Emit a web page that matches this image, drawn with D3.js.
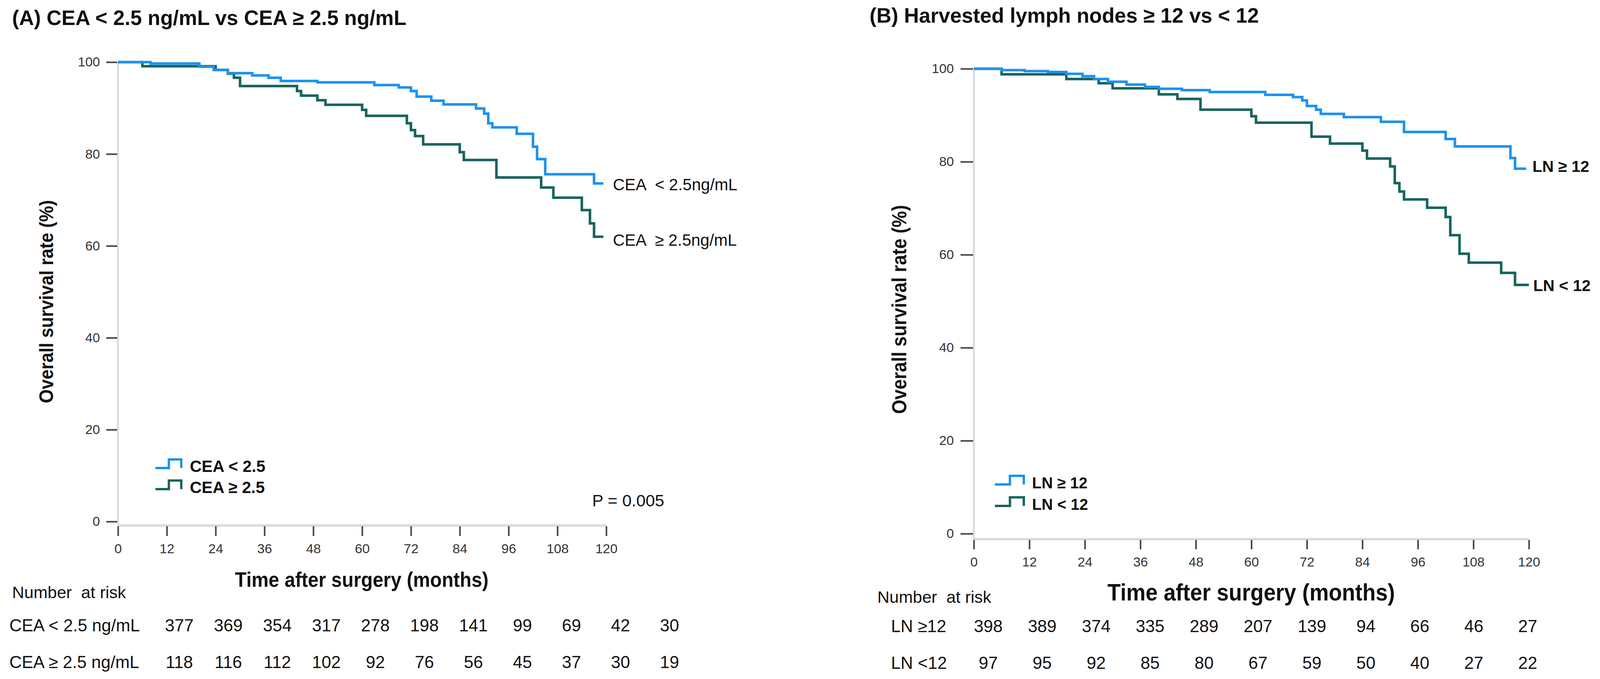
<!DOCTYPE html>
<html>
<head>
<meta charset="utf-8">
<script src="https://cdn.jsdelivr.net/npm/d3@7"></script>
<style>
  body { margin: 0; background: #fff; }
  text { font-family: "Liberation Sans", Arial, sans-serif; fill: #111; }
</style>
</head>
<body>
<div id="chart"></div>
<script>
// axis ticks
const monthTicks = [0, 12, 24, 36, 48, 60, 72, 84, 96, 108, 120];
const survivalTicks = [0, 20, 40, 60, 80, 100];

// Panel A: Kaplan-Meier steps, [month, overall survival %]
const ceaLow = [[0, 100], [8, 99.7], [20, 99.0], [23.5, 98.3], [27, 97.6], [33, 97.1], [37, 96.6],
  [40, 95.9], [49, 95.6], [63, 95.0], [69, 94.5], [72, 93.7], [73.4, 92.5], [77, 91.6], [80, 90.8],
  [88, 89.9], [90, 88.8], [91, 86.7], [92, 85.8], [98, 84.4], [102, 81.6], [103, 78.9], [105, 75.6],
  [117, 73.6], [119.3, 73.6]];
const ceaHigh = [[0, 100], [6, 99.1], [24, 98.3], [27, 97.5], [28.5, 96.6], [30, 94.8], [44, 93.7],
  [45, 92.7], [49, 91.7], [51, 90.7], [60, 89.6], [61, 88.3], [71, 86.7], [72, 85.2], [73, 83.9],
  [75, 82.1], [84, 80.4], [85, 78.7], [93, 74.9], [104, 72.7], [107, 70.5], [114, 67.8], [116, 64.9],
  [117, 62.0], [119.3, 62.0]];
const ceaLowAtRisk = [377, 369, 354, 317, 278, 198, 141, 99, 69, 42, 30];
const ceaHighAtRisk = [118, 116, 112, 102, 92, 76, 56, 45, 37, 30, 19];

// Panel B
const lnHigh = [[0, 100], [6, 99.7], [11, 99.5], [16, 99.3], [20, 98.9], [23.5, 98.4], [26, 97.8],
  [29, 97.2], [33, 96.6], [37, 96.1], [40, 95.7], [45, 95.4], [51, 95.0], [63, 94.4], [69, 93.9],
  [71, 93.2], [72, 92.0], [74, 91.2], [75, 90.3], [80, 89.6], [88, 88.6], [93, 86.4], [102, 84.9],
  [104, 83.3], [116, 80.8], [117, 78.5], [119.4, 78.5]];
const lnLow = [[0, 100], [6, 98.8], [20, 97.8], [27, 96.9], [30, 95.8], [40, 94.5], [44, 93.5],
  [49, 91.2], [60, 89.8], [61, 88.4], [73, 85.4], [77, 83.9], [84, 82.4], [85, 80.7], [90, 79.0],
  [91, 75.4], [92, 73.6], [93, 71.9], [98, 70.1], [102, 68.1], [103, 64.2], [105, 60.2], [107, 58.3],
  [114, 56.1], [117, 53.5], [120, 53.5]];
const lnHighAtRisk = [398, 389, 374, 335, 289, 207, 139, 94, 66, 46, 27];
const lnLowAtRisk = [97, 95, 92, 85, 80, 67, 59, 50, 40, 27, 22];

const blue = "#1c92ee";
const teal = "#17645d";

const width = 4111, height = 1738;
const svg = d3.select("#chart").append("svg")
  .attr("width", width).attr("height", height);
svg.append("rect").attr("width", width).attr("height", height).attr("fill", "#fff");

function drawPanel(p) {
  const x = d3.scaleLinear().domain([0, 120]).range(p.xRange);
  const y = d3.scaleLinear().domain([0, 100]).range(p.yRange);
  const g = svg.append("g");

  g.append("text")
    .attr("x", p.titleX).attr("y", p.titleY)
    .attr("font-size", 53).attr("font-weight", "bold")
    .text(p.title);

  // light grey axis lines
  g.append("line")
    .attr("x1", x(0)).attr("x2", x(0)).attr("y1", y(100)).attr("y2", p.xAxisY)
    .attr("stroke", "#dadada").attr("stroke-width", 5);
  g.append("line")
    .attr("x1", x(0)).attr("x2", x(120)).attr("y1", p.xAxisY).attr("y2", p.xAxisY)
    .attr("stroke", "#dadada").attr("stroke-width", 6);

  const yAxis = g.append("g")
    .attr("transform", `translate(${x(0) - 2},0)`)
    .call(d3.axisLeft(y).tickValues(survivalTicks).tickSize(p.yTick).tickPadding(p.yPad));
  yAxis.select(".domain").remove();
  yAxis.selectAll("line").attr("stroke", "#444").attr("stroke-width", 4);
  yAxis.selectAll("text")
    .attr("font-family", "DejaVu Sans").attr("font-size", 34).style("fill", "#333");

  const xAxis = g.append("g")
    .attr("transform", `translate(0,${p.xAxisY + 2})`)
    .call(d3.axisBottom(x).tickValues(monthTicks).tickSize(p.xTick).tickPadding(p.xPad));
  xAxis.select(".domain").remove();
  xAxis.selectAll("line").attr("stroke", "#444").attr("stroke-width", 4);
  xAxis.selectAll("text")
    .attr("font-family", "DejaVu Sans").attr("font-size", 34).style("fill", "#333");

  // axis titles
  g.append("text")
    .attr("transform", `translate(${p.yTitle[0]},${p.yTitle[1]}) rotate(-90)`)
    .attr("text-anchor", "middle")
    .attr("font-family", "Lato").attr("font-weight", "bold").attr("font-size", p.yTitle[3])
    .attr("textLength", p.yTitle[2]).attr("lengthAdjust", "spacingAndGlyphs")
    .text("Overall survival rate (%)");
  g.append("text")
    .attr("x", p.xTitle[0]).attr("y", p.xTitle[1])
    .attr("text-anchor", "middle")
    .attr("font-family", "Lato").attr("font-weight", "bold").attr("font-size", p.xTitle[3])
    .attr("textLength", p.xTitle[2]).attr("lengthAdjust", "spacingAndGlyphs")
    .text("Time after surgery (months)");

  // survival curves
  const line = d3.line()
    .x(d => x(d[0])).y(d => y(d[1]))
    .curve(d3.curveStepAfter);
  p.series.slice().reverse().forEach(s => {
    g.append("path").datum(s.data)
      .attr("d", line)
      .attr("fill", "none")
      .attr("stroke", s.color)
      .attr("stroke-width", 6.5);
  });

  // labels at curve ends
  p.series.forEach(s => {
    g.append("text")
      .attr("x", s.endLabel[0]).attr("y", s.endLabel[1])
      .attr("font-size", p.endSize).attr("font-weight", p.endWeight)
      .style("white-space", "pre")
      .text(s.endText);
  });

  // legend with little step icons
  const icon = d3.line()
    .x(d => d[0] * p.legend.w).y(d => d[1] * p.legend.h);
  p.series.forEach((s, i) => {
    const ly = p.legend.y + i * p.legend.dy;
    g.append("path")
      .attr("transform", `translate(${p.legend.x},${ly})`)
      .attr("d", icon([[0, 1], [0.52, 1], [0.52, 0], [1, 0], [1, 1]]))
      .attr("fill", "none").attr("stroke", s.color).attr("stroke-width", 6);
    g.append("text")
      .attr("x", p.legend.textX).attr("y", ly + p.legend.h + 10)
      .attr("font-size", p.legend.size).attr("font-weight", "bold")
      .text(s.legendText);
  });

  if (p.pValue) {
    g.append("text")
      .attr("x", p.pValue[0]).attr("y", p.pValue[1])
      .attr("font-size", 43)
      .text("P = 0.005");
  }

  // number at risk table
  g.append("text")
    .attr("x", p.riskTitle[0]).attr("y", p.riskTitle[1])
    .attr("font-size", 43).style("white-space", "pre")
    .text("Number  at risk");
  const col = d3.scalePoint().domain(d3.range(monthTicks.length)).range(p.tableRange);
  p.series.forEach((s, i) => {
    const ry = p.rowY[i];
    g.append("text")
      .attr("x", p.rowLabelX).attr("y", ry)
      .attr("font-size", 44)
      .text(s.rowText);
    g.selectAll(null)
      .data(s.atRisk)
      .enter()
      .append("text")
      .attr("x", (d, j) => col(j)).attr("y", ry)
      .attr("text-anchor", "middle")
      .attr("font-size", 44)
      .text(d => d);
  });
}

drawPanel({
  title: "(A) CEA < 2.5 ng/mL vs CEA \u2265 2.5 ng/mL",
  titleX: 31, titleY: 64,
  xRange: [302, 1552], yRange: [1335, 159], xAxisY: 1345,
  yTick: 28, yPad: 16, xTick: 25, xPad: 20,
  yTitle: [136, 772, 520, 50], xTitle: [926, 1502, 649, 54],
  endSize: 42, endWeight: "normal",
  legend: { x: 398, y: 1176, w: 66, h: 22, dy: 54, textX: 486, size: 42 },
  pValue: [1516, 1296],
  riskTitle: [31, 1531], rowLabelX: 24, rowY: [1616, 1710], tableRange: [459, 1714],
  series: [
    { data: ceaLow, color: blue, endText: "CEA  < 2.5ng/mL", endLabel: [1569, 487],
      legendText: "CEA < 2.5", rowText: "CEA < 2.5 ng/mL", atRisk: ceaLowAtRisk },
    { data: ceaHigh, color: teal, endText: "CEA  \u2265 2.5ng/mL", endLabel: [1569, 629],
      legendText: "CEA \u2265 2.5", rowText: "CEA \u2265 2.5 ng/mL", atRisk: ceaHighAtRisk }
  ]
});

drawPanel({
  title: "(B) Harvested lymph nodes \u2265 12 vs < 12",
  titleX: 2226, titleY: 58,
  xRange: [2493, 3914], yRange: [1366, 176], xAxisY: 1380,
  yTick: 32, yPad: 17, xTick: 24, xPad: 20,
  yTitle: [2320, 792, 535, 51], xTitle: [3203, 1537, 736, 61],
  endSize: 41, endWeight: "bold",
  legend: { x: 2547, y: 1218, w: 74, h: 22, dy: 55, textX: 2642, size: 40 },
  pValue: null,
  riskTitle: [2246, 1543], rowLabelX: 2281, rowY: [1618, 1712], tableRange: [2530, 3911],
  series: [
    { data: lnHigh, color: blue, endText: "LN \u2265 12", endLabel: [3923, 440],
      legendText: "LN \u2265 12", rowText: "LN \u226512", atRisk: lnHighAtRisk },
    { data: lnLow, color: teal, endText: "LN < 12", endLabel: [3925, 745],
      legendText: "LN < 12", rowText: "LN <12", atRisk: lnLowAtRisk }
  ]
});
</script>
</body>
</html>
